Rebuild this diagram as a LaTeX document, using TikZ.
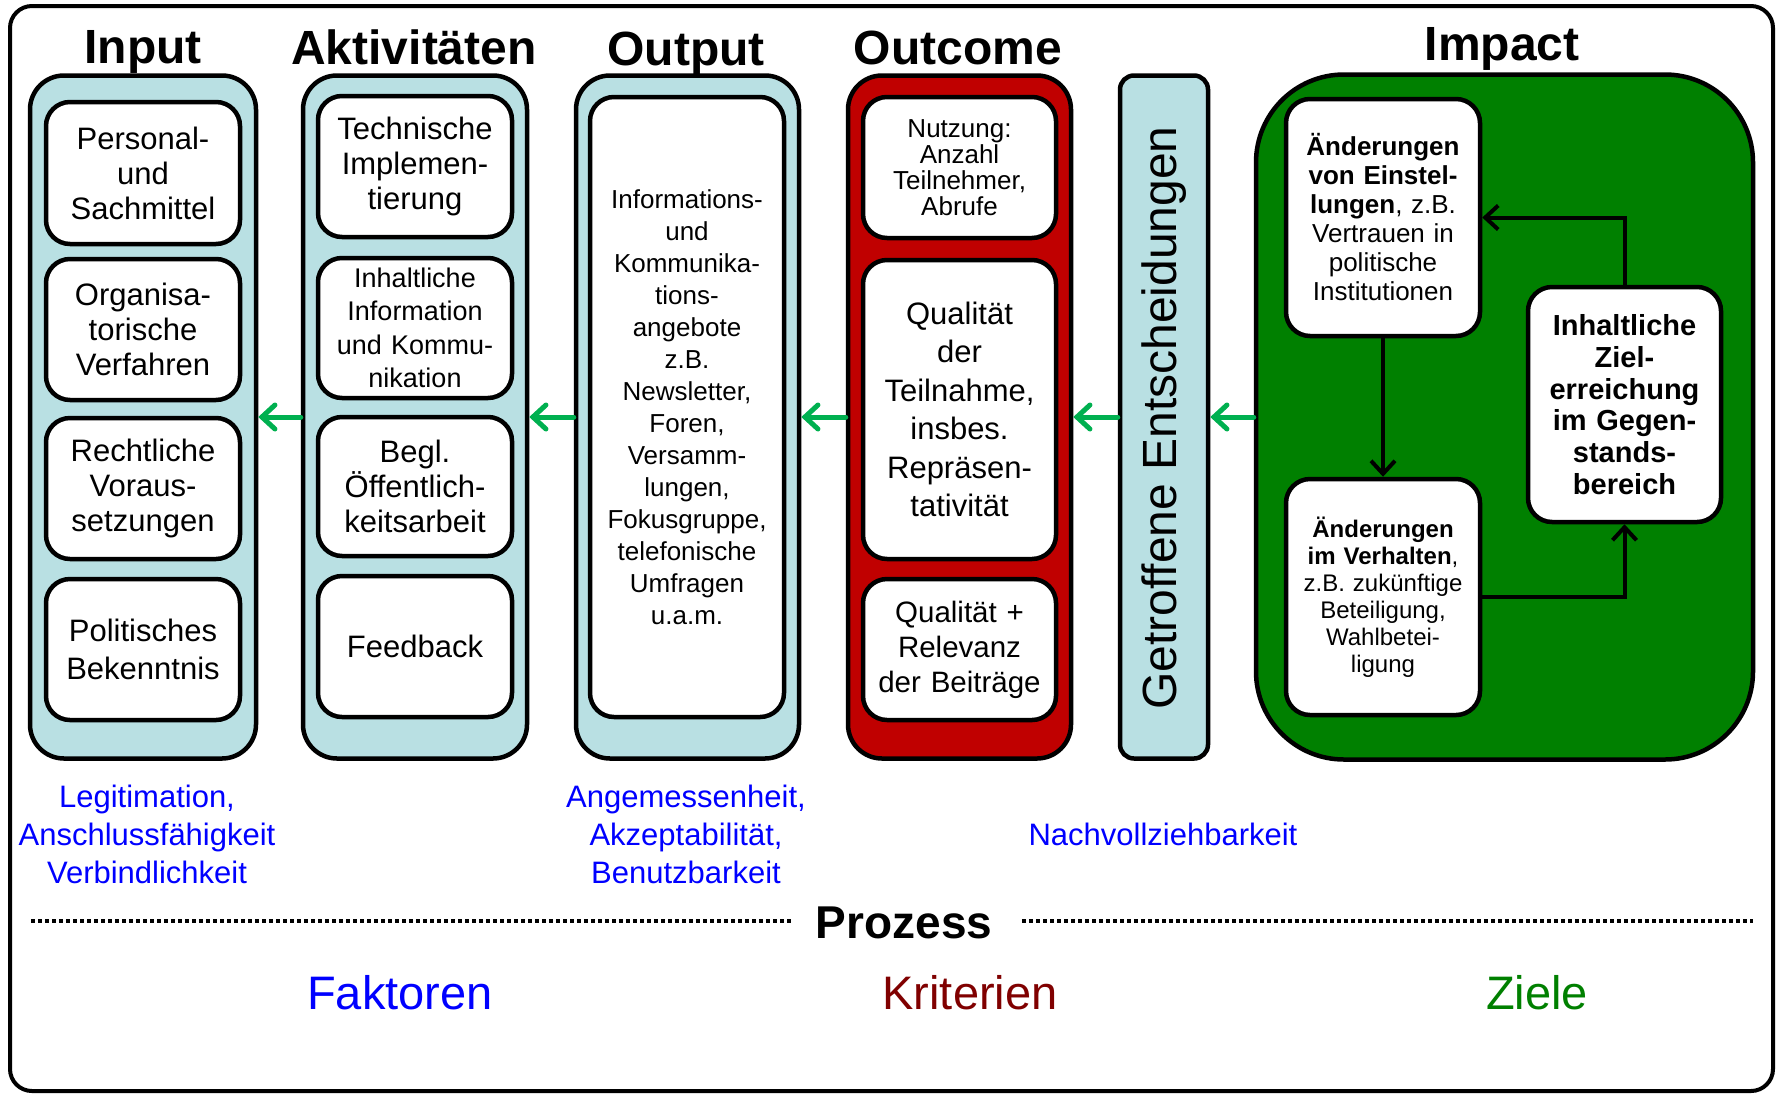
\documentclass[tikz,border=0pt]{standalone}
\usepackage{fontspec}
\setmainfont{Liberation Sans}
\usetikzlibrary{arrows.meta}
\definecolor{lblue}{RGB}{185,224,227}
\definecolor{ocred}{RGB}{192,0,0}
\definecolor{impgreen}{RGB}{0,128,0}
\definecolor{arrgreen}{RGB}{0,176,80}
\definecolor{kritred}{RGB}{128,0,0}
\newcommand{\fsz}[2]{\fontsize{#1}{#2}\selectfont}
\begin{document}
\begin{tikzpicture}[x=1pt,y=-1pt,
  cont/.style={draw, line width=4.5pt, rounded corners=34pt, inner sep=0pt, fill=lblue},
  box/.style={draw, line width=4.5pt, rounded corners=24pt, fill=white, inner sep=0pt, align=center, text width=190pt},
  ttl/.style={font=\bfseries\fsz{48}{56}, anchor=base},
  garr/.style={draw=arrgreen, line width=5pt, line cap=round, -{Straight Barb[length=13pt,width=24pt,line cap=round]}},
  barr/.style={draw, line width=4pt, -{Straight Barb[length=13pt,width=24pt]}},
  blab/.style={text=blue, font=\fsz{31}{38}, align=center},
  big/.style={font=\fsz{47}{52}},
  dotl/.style={line width=3.5pt, dash pattern=on 3.5pt off 3.5pt}
]
\useasboundingbox (0,0) rectangle (1776,1093);
\fill[white] (0,0) rectangle (1776,1093);
\draw[line width=4pt, rounded corners=22pt] (10,6) rectangle (1773,1091);

% titles
\node[ttl] (tIn) at (143,63) {Input};
\node[ttl] (tAk) at (414,64) {Aktivitäten};
\node[ttl] (tOut) at (686,65) {Output};
\node[ttl] (tOc) at (958,64) {Outcome};
\node[ttl] (tImp) at (1502,60) {Impact};

% containers
\node[cont, minimum width=226pt, minimum height=683pt] (cIn) at (143,417) {};
\node[cont, minimum width=224pt, minimum height=683pt] (cAk) at (415,417) {};
\node[cont, minimum width=223pt, minimum height=683pt] (cOut) at (687.5,417) {};
\node[cont, fill=ocred, minimum width=223pt, minimum height=683pt] (cOc) at (959.5,417) {};
\node[cont, rounded corners=14pt, minimum width=88pt, minimum height=683pt] (cGE) at (1164,417) {};
\node[font=\fsz{48}{54}, rotate=90] (tGE) at (1164,418) {Getroffene Entscheidungen};
\node[cont, fill=impgreen, rounded corners=88pt, minimum width=497pt, minimum height=685pt] (cImp) at (1504.5,417) {};

% Input boxes
\node[box, font=\fsz{31}{35}, minimum width=194pt, minimum height=142pt] (in1) at (143,173) {Personal-\\und\\Sachmittel};
\node[box, font=\fsz{31}{35}, minimum width=194pt, minimum height=141pt] (in2) at (143,329.5) {Organisa-\\torische\\Verfahren};
\node[box, font=\fsz{31}{35}, minimum width=194pt, minimum height=141pt] (in3) at (143,488.5) {Rechtliche\\Voraus-\\setzungen};
\node[box, font=\fsz{31}{38}, minimum width=194pt, minimum height=141pt] (in4) at (143,649.5) {Politisches\\Bekenntnis};

% Aktivitaeten boxes
\node[box, font=\fsz{31}{35}, minimum width=194pt, minimum height=141pt] (ak1) at (415,166.5) {Technische\\Implemen-\\tierung};
\node[box, font=\fsz{27}{33.5}, minimum width=194pt, minimum height=140pt] (ak2) at (415,328) {Inhaltliche\\Information\\und Kommu-\\nikation};
\node[box, font=\fsz{31}{35}, minimum width=194pt, minimum height=139pt] (ak3) at (415,486.5) {Begl.\\Öffentlich-\\keitsarbeit};
\node[box, font=\fsz{31}{35}, minimum width=194pt, minimum height=141pt] (ak4) at (415,646.5) {Feedback};

% Output box
\node[box, font=\fsz{26}{32}, minimum width=194pt, minimum height=620pt] (out1) at (687,407) {Informations-\\und\\Kommunika-\\tions-\\angebote\\z.B.\\Newsletter,\\Foren,\\Versamm-\\lungen,\\Fokusgruppe,\\telefonische\\Umfragen\\u.a.m.};

% Outcome boxes
\node[box, font=\fsz{26}{26}, minimum width=193pt, minimum height=141pt] (oc1) at (959.5,167.5) {Nutzung:\\Anzahl\\Teilnehmer,\\Abrufe};
\node[box, font=\fsz{31}{38.5}, minimum width=193pt, minimum height=299pt] (oc2) at (959.5,409.5) {Qualität\\der\\Teilnahme,\\insbes.\\Repräsen-\\tativität};
\node[box, font=\fsz{29.5}{35}, minimum width=193pt, minimum height=141pt] (oc3) at (959.5,649.5) {Qualität +\\Relevanz\\der Beiträge};

% Impact boxes
\node[box, font=\fsz{26}{29}, minimum width=194pt, minimum height=237pt] (im1) at (1383,217.5) {\textbf{Änderungen}\\\textbf{von Einstel-}\\\textbf{lungen}, z.B.\\Vertrauen in\\politische\\Institutionen};
\node[box, font=\fsz{24}{27}, minimum width=194pt, minimum height=236pt] (im2) at (1383,597) {\textbf{Änderungen}\\\textbf{im Verhalten},\\z.B. zukünftige\\Beteiligung,\\Wahlbetei-\\ligung};
\node[box, font=\bfseries\fsz{29}{31.7}, minimum width=193pt, minimum height=235pt] (im3) at (1624.5,404.5) {Inhaltliche\\Ziel-\\erreichung\\im Gegen-\\stands-\\bereich};

% impact arrows
\draw[barr] (im1.south) -- (im2.north);
\draw[barr] (im2.east) -| (im3.south);
\draw[barr] (im3.north) |- (im1.east);

% green arrows
\draw[garr] (cAk.west) -- (cIn.east);
\draw[garr] (cOut.west) -- (cAk.east);
\draw[garr] (cOc.west) -- (cOut.east);
\draw[garr] (cGE.west) -- (cOc.east);
\draw[garr] (cImp.west) -- (cGE.east);

% bottom labels
\node[blab] (lIn) at (147,834) {Legitimation,\\Anschlussfähigkeit\\Verbindlichkeit};
\node[blab] (lOut) at (686,834) {Angemessenheit,\\Akzeptabilität,\\Benutzbarkeit};
\node[blab] (lOc) at (1163,834) {Nachvollziehbarkeit};

\node[font=\bfseries\fsz{46}{50}] (proz) at (904,923) {Prozess};
\coordinate (d1a) at (31,921);
\coordinate (d1b) at (793,921);
\coordinate (d2a) at (1022,921);
\coordinate (d2b) at (1753,921);
\draw[dotl] (d1a) -- (d1b);
\draw[dotl] (d2a) -- (d2b);

\node[big, text=blue] (fak) at (400,993) {Faktoren};
\node[big, text=kritred] (krit) at (970,993) {Kriterien};
\node[big, text=impgreen] (ziel) at (1537,993) {Ziele};
\end{tikzpicture}
\end{document}
